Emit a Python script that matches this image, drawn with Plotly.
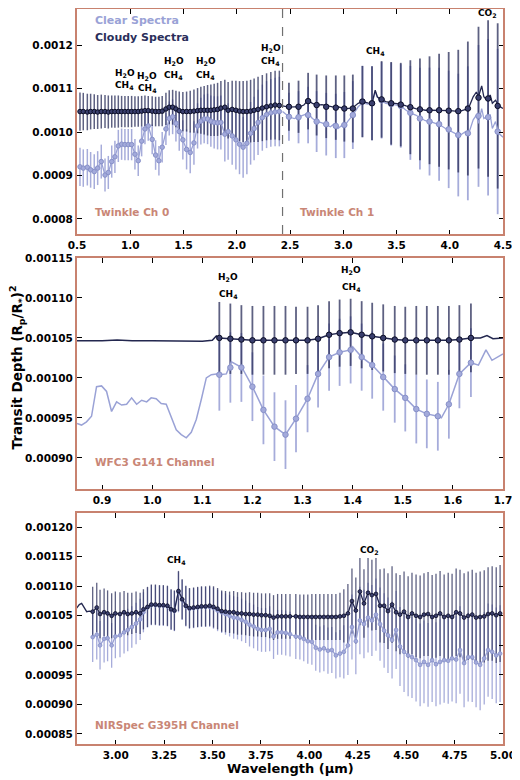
import plotly.graph_objects as go

# ---------------- Panel 1: Twinkle ----------------
ch0_wl = [0.528, 0.559, 0.597, 0.628, 0.662, 0.694, 0.728, 0.763, 0.794, 0.826,
          0.856, 0.888, 0.919, 0.95, 0.981, 1.013, 1.044, 1.075, 1.107, 1.138,
          1.169, 1.206, 1.238, 1.269, 1.3, 1.335, 1.366, 1.398, 1.429, 1.46,
          1.494, 1.529, 1.563, 1.598, 1.632, 1.663, 1.694, 1.726, 1.757, 1.788,
          1.82, 1.851, 1.888, 1.919, 1.957, 1.992, 2.026, 2.06, 2.095, 2.13,
          2.163, 2.2, 2.24, 2.28, 2.32, 2.36, 2.40]
ch0_clear = [0.000920, 0.000917, 0.000919, 0.000913, 0.000909, 0.000917, 0.000932, 0.000901, 0.000907, 0.000932,
             0.000943, 0.000968, 0.000972, 0.000971, 0.000971, 0.000971, 0.000949, 0.000934, 0.000979, 0.001007,
             0.001014, 0.000983, 0.000947, 0.000934, 0.000965, 0.001007, 0.001031, 0.001035, 0.001020, 0.001001,
             0.000982, 0.000960, 0.000953, 0.000975, 0.001014, 0.001025, 0.001030, 0.001030, 0.001025, 0.001022,
             0.001021, 0.001022, 0.000995, 0.001001, 0.000991, 0.000982, 0.000972, 0.000965, 0.000974, 0.000997,
             0.001008, 0.001022, 0.001033, 0.001040, 0.001044, 0.001046, 0.001047]
ch0_cloudy = [0.001047, 0.001047, 0.001046, 0.001047, 0.001047, 0.001046, 0.001047, 0.001047, 0.001046, 0.001047,
              0.001047, 0.001047, 0.001047, 0.001047, 0.001047, 0.001047, 0.001047, 0.001047, 0.001048, 0.001049,
              0.001049, 0.001048, 0.001047, 0.001047, 0.001048, 0.001053, 0.001057, 0.001057, 0.001053, 0.001049,
              0.001047, 0.001047, 0.001047, 0.001048, 0.001049, 0.001050, 0.001050, 0.001050, 0.001050, 0.001051,
              0.001052, 0.001055, 0.001057, 0.001050, 0.001052, 0.001050, 0.001048, 0.001047, 0.001047, 0.001048,
              0.001050, 0.001052, 0.001055, 0.001058, 0.001060, 0.001062, 0.001061]
ch0_err = [4.4e-5, 4.3e-5, 4.2e-5, 4.1e-5, 4.0e-5, 3.9e-5, 3.9e-5, 3.8e-5, 3.8e-5, 3.7e-5,
           3.7e-5, 3.7e-5, 3.6e-5, 3.6e-5, 3.6e-5, 3.6e-5, 3.5e-5, 3.5e-5, 3.5e-5, 3.5e-5,
           3.4e-5, 3.4e-5, 3.4e-5, 3.4e-5, 3.5e-5, 3.7e-5, 3.9e-5, 4.0e-5, 4.2e-5, 4.4e-5,
           4.5e-5, 4.6e-5, 4.8e-5, 5.0e-5, 5.2e-5, 5.4e-5, 5.6e-5, 5.8e-5, 5.9e-5, 6.0e-5,
           6.1e-5, 6.2e-5, 6.3e-5, 6.5e-5, 6.6e-5, 6.8e-5, 6.9e-5, 7.0e-5, 7.1e-5, 7.2e-5,
           7.3e-5, 7.5e-5, 7.6e-5, 7.7e-5, 7.8e-5, 7.9e-5, 8.0e-5]

ch1_wl = [2.49, 2.58, 2.67, 2.75, 2.84, 2.93, 3.01, 3.09, 3.18, 3.27, 3.36, 3.45,
          3.54, 3.63, 3.72, 3.81, 3.90, 3.99, 4.08, 4.17, 4.27, 4.36, 4.45]
ch1_clear = [0.001035, 0.001034, 0.001039, 0.001024, 0.001018, 0.001014, 0.001016, 0.001039, 0.001070, 0.001066,
             0.001073, 0.001064, 0.001060, 0.001044, 0.001031, 0.001024, 0.001018, 0.001006, 0.000993, 0.000997,
             0.001037, 0.001034, 0.001001]
ch1_cloudy = [0.001058, 0.001058, 0.001071, 0.001062, 0.001058, 0.001056, 0.001054, 0.001054, 0.001070, 0.001066,
              0.001075, 0.001066, 0.001063, 0.001057, 0.001052, 0.001050, 0.001050, 0.001049, 0.001048, 0.001054,
              0.001079, 0.001077, 0.001060]
ch1_err = [5.5e-5, 6.0e-5, 6.5e-5, 7.0e-5, 7.2e-5, 7.4e-5, 7.6e-5, 7.8e-5, 8.2e-5, 8.5e-5,
           8.8e-5, 9.5e-5, 9.6e-5, 10.8e-5, 11.7e-5, 12.4e-5, 13.0e-5, 13.5e-5, 14.1e-5, 15.4e-5,
           16.3e-5, 18.0e-5, 19.0e-5]

ch1_line_wl = [2.43, 2.49, 2.54, 2.59, 2.63, 2.67, 2.71, 2.76, 2.80, 2.85, 2.88, 2.91, 2.95, 2.98,
               3.01, 3.04, 3.09, 3.14, 3.18, 3.23, 3.27, 3.30, 3.32, 3.35, 3.40, 3.45, 3.49, 3.54,
               3.59, 3.63, 3.68, 3.73, 3.77, 3.82, 3.87, 3.91, 3.96, 4.01, 4.05, 4.10, 4.15, 4.18,
               4.22, 4.25, 4.27, 4.30, 4.32, 4.35, 4.38, 4.40, 4.43, 4.46, 4.50]
ch1_line_cloudy = [0.001060, 0.001057, 0.001058, 0.001058, 0.001062, 0.001073, 0.001066, 0.001062, 0.001063, 0.001060,
                   0.001058, 0.001057, 0.001058, 0.001056, 0.001054, 0.001054, 0.001056, 0.001066, 0.001070, 0.001067,
                   0.001066, 0.001096, 0.001081, 0.001075, 0.001070, 0.001067, 0.001066, 0.001064, 0.001060, 0.001057,
                   0.001054, 0.001052, 0.001050, 0.001050, 0.001050, 0.001050, 0.001049, 0.001049, 0.001048, 0.001048,
                   0.001052, 0.001057, 0.001081, 0.001092, 0.001081, 0.001106, 0.001081, 0.001073, 0.001085, 0.001066,
                   0.001073, 0.001060, 0.001054]
ch1_line_clear = [0.001047, 0.001035, 0.001031, 0.001035, 0.001039, 0.001043, 0.001031, 0.001024, 0.001021, 0.001016,
                  0.001012, 0.001018, 0.001008, 0.001014, 0.001012, 0.001024, 0.001039, 0.001058, 0.001067, 0.001064,
                  0.001064, 0.001093, 0.001080, 0.001073, 0.001066, 0.001064, 0.001062, 0.001060, 0.001050, 0.001044,
                  0.001039, 0.001031, 0.001026, 0.001024, 0.001020, 0.001016, 0.001008, 0.001001, 0.000997, 0.000993,
                  0.001001, 0.000998, 0.001028, 0.001039, 0.001020, 0.001054, 0.001031, 0.001035, 0.001039, 0.001008,
                  0.001024, 0.000997, 0.000988]

# ---------------- Panel 2: WFC3 G141 ----------------
wfc_wl = [1.134, 1.156, 1.178, 1.2, 1.222, 1.244, 1.266, 1.287, 1.31, 1.331, 1.353, 1.374,
          1.396, 1.418, 1.439, 1.461, 1.484, 1.505, 1.527, 1.548, 1.57, 1.592, 1.613, 1.636]
wfc_clear = [0.001004, 0.001013, 0.001013, 0.000989, 0.000960, 0.000939, 0.000929, 0.000949, 0.000974, 0.001005,
             0.001026, 0.001032, 0.001035, 0.001026, 0.001016, 0.001001, 0.000986, 0.000975, 0.000961, 0.000955,
             0.000952, 0.000967, 0.001005, 0.001019]
wfc_cloudy = [0.001050, 0.001049, 0.001048, 0.001047, 0.001047, 0.001047, 0.001047, 0.001047, 0.001047, 0.001049,
              0.001054, 0.001056, 0.001057, 0.001054, 0.001052, 0.001050, 0.001048, 0.001047, 0.001047, 0.001047,
              0.001047, 0.001047, 0.001048, 0.001050]
wfc_err = [4.5e-5, 4.4e-5, 4.3e-5, 4.3e-5, 4.3e-5, 4.3e-5, 4.3e-5, 4.2e-5, 4.2e-5, 4.2e-5,
           4.2e-5, 4.2e-5, 4.2e-5, 4.2e-5, 4.2e-5, 4.2e-5, 4.2e-5, 4.2e-5, 4.3e-5, 4.3e-5,
           4.3e-5, 4.3e-5, 4.3e-5, 4.3e-5]

wfc_line_wl = [0.85, 0.859, 0.869, 0.879, 0.889, 0.899, 0.909, 0.919, 0.929, 0.939, 0.949, 0.959,
               0.969, 0.979, 0.989, 0.998, 1.008, 1.018, 1.028, 1.038, 1.048, 1.058, 1.068, 1.078,
               1.088, 1.098, 1.108, 1.118, 1.128, 1.134, 1.148, 1.158, 1.168, 1.179, 1.2, 1.222,
               1.244, 1.266, 1.287, 1.31, 1.331, 1.353, 1.374, 1.396, 1.40, 1.418, 1.439, 1.461,
               1.484, 1.505, 1.527, 1.548, 1.57, 1.577, 1.592, 1.613, 1.636, 1.651, 1.666, 1.678, 1.70]
wfc_line_clear = [0.000943, 0.000941, 0.000945, 0.000952, 0.000989, 0.000990, 0.000983, 0.000958, 0.000970, 0.000966,
                  0.000967, 0.000975, 0.000967, 0.000972, 0.000970, 0.000975, 0.000974, 0.000968, 0.000967, 0.000952,
                  0.000935, 0.000929, 0.000925, 0.000932, 0.000948, 0.000973, 0.001000, 0.001004, 0.001005, 0.001004,
                  0.001005, 0.001020, 0.001017, 0.001013, 0.000989, 0.000960, 0.000939, 0.000929, 0.000949, 0.000974,
                  0.001005, 0.001026, 0.001032, 0.001035, 0.001039, 0.001026, 0.001016, 0.001001, 0.000986, 0.000975,
                  0.000961, 0.000955, 0.000952, 0.000950, 0.000967, 0.001005, 0.001019, 0.001016, 0.001035, 0.001022,
                  0.001030]
wfc_cl_line_wl = [0.85, 0.90, 0.93, 0.96, 1.00, 1.05, 1.10, 1.12, 1.128, 1.134, 1.156, 1.178, 1.2, 1.222,
                  1.244, 1.266, 1.287, 1.31, 1.331, 1.353, 1.374, 1.396, 1.418, 1.439, 1.461, 1.484,
                  1.505, 1.527, 1.548, 1.57, 1.592, 1.613, 1.636, 1.655, 1.668, 1.68, 1.70]
wfc_cl_line_cloudy = [0.0010465, 0.0010465, 0.0010475, 0.0010465, 0.0010465, 0.001046, 0.001046, 0.001047, 0.0010525,
                      0.001050, 0.001049, 0.001048, 0.001047, 0.001047, 0.001047, 0.001047, 0.001047, 0.001047,
                      0.001049, 0.001054, 0.001056, 0.001057, 0.001054, 0.001052, 0.001050, 0.001048, 0.001047,
                      0.001047, 0.001047, 0.001047, 0.001047, 0.001048, 0.001050, 0.001050, 0.001053, 0.001049,
                      0.001050]

# ---------------- Panel 3: NIRSpec G395H ----------------
nir_wl = [2.881, 2.902, 2.919, 2.94, 2.958, 2.979, 2.998, 3.022, 3.043, 3.062,
          3.083, 3.105, 3.126, 3.143, 3.164, 3.184, 3.205, 3.226, 3.246, 3.267,
          3.286, 3.303, 3.324, 3.343, 3.362, 3.381, 3.402, 3.423, 3.443, 3.464,
          3.485, 3.505, 3.526, 3.547, 3.567, 3.588, 3.609, 3.629, 3.65, 3.671,
          3.691, 3.712, 3.733, 3.753, 3.774, 3.795, 3.815, 3.836, 3.857, 3.878,
          3.90, 3.93, 3.951, 3.971, 3.992, 4.013, 4.033, 4.054, 4.075, 4.096,
          4.116, 4.137, 4.158, 4.178, 4.199, 4.22, 4.24, 4.261, 4.282, 4.303,
          4.323, 4.344, 4.365, 4.386, 4.406, 4.427, 4.448, 4.468, 4.489, 4.51,
          4.53, 4.551, 4.572, 4.592, 4.613, 4.634, 4.654, 4.675, 4.696, 4.717,
          4.737, 4.758, 4.778, 4.799, 4.82, 4.841, 4.861, 4.882, 4.903, 4.923,
          4.944, 4.965, 4.985]
nir_cloudy = [0.001057, 0.001064, 0.001053, 0.001056, 0.001054, 0.001050, 0.001054, 0.001053, 0.001056, 0.001053,
              0.001054, 0.001056, 0.001054, 0.001061, 0.001065, 0.001069, 0.001069, 0.001068, 0.001068, 0.001067,
              0.001061, 0.001059, 0.001092, 0.001078, 0.001067, 0.001063, 0.001064, 0.001065, 0.001066, 0.001066,
              0.001067, 0.001065, 0.001062, 0.001058, 0.001057, 0.001056, 0.001056, 0.001054, 0.001054, 0.001053,
              0.001053, 0.001052, 0.001052, 0.001051, 0.001051, 0.001050, 0.001047, 0.001049, 0.001049, 0.001049,
              0.001049, 0.001049, 0.001048, 0.001048, 0.001048, 0.001048, 0.001048, 0.001048, 0.001048, 0.001048,
              0.001048, 0.001048, 0.001049, 0.001050, 0.001054, 0.001075, 0.001059, 0.001091, 0.001071, 0.001089,
              0.001085, 0.001087, 0.001067, 0.001067, 0.001058, 0.001069, 0.001056, 0.001052, 0.001057, 0.001048,
              0.001054, 0.001050, 0.001048, 0.001052, 0.001053, 0.001048, 0.001050, 0.001054, 0.001048, 0.001050,
              0.001048, 0.001056, 0.001054, 0.001047, 0.001050, 0.001052, 0.001047, 0.001048, 0.001049, 0.001053,
              0.001054, 0.001051, 0.001054]
nir_clear = [0.001014, 0.001018, 0.001000, 0.001011, 0.001012, 0.001000, 0.001015, 0.001017, 0.001022, 0.001026,
             0.001031, 0.001037, 0.001044, 0.001056, 0.001064, 0.001068, 0.001068, 0.001067, 0.001067, 0.001066,
             0.001060, 0.001058, 0.001090, 0.001077, 0.001066, 0.001062, 0.001063, 0.001064, 0.001065, 0.001065,
             0.001065, 0.001063, 0.001059, 0.001056, 0.001053, 0.001050, 0.001047, 0.001046, 0.001043, 0.001040,
             0.001035, 0.001032, 0.001028, 0.001026, 0.001026, 0.001028, 0.001015, 0.001022, 0.001022, 0.001021,
             0.001019, 0.001015, 0.001014, 0.001011, 0.001007, 0.001006, 0.000996, 0.000993, 0.000995, 0.000991,
             0.000992, 0.000983, 0.000986, 0.000989, 0.001000, 0.001031, 0.001007, 0.001042, 0.001036, 0.001047,
             0.001042, 0.001052, 0.001036, 0.001025, 0.001017, 0.001009, 0.001026, 0.000998, 0.000989, 0.000983,
             0.000980, 0.000975, 0.000967, 0.000972, 0.000967, 0.000975, 0.000968, 0.000972, 0.000975, 0.000974,
             0.000978, 0.000976, 0.000992, 0.000970, 0.000980, 0.000980, 0.000971, 0.000967, 0.000978, 0.000992,
             0.000989, 0.000983, 0.000986]
nir_err = [4.2e-5, 4.2e-5, 4.1e-5, 4.0e-5, 3.9e-5, 3.8e-5, 3.7e-5, 3.7e-5, 3.6e-5, 3.6e-5,
           3.5e-5, 3.5e-5, 3.5e-5, 3.4e-5, 3.4e-5, 3.4e-5, 3.4e-5, 3.4e-5, 3.4e-5, 3.4e-5,
           3.4e-5, 3.4e-5, 3.4e-5, 3.4e-5, 3.4e-5, 3.4e-5, 3.4e-5, 3.4e-5, 3.4e-5, 3.4e-5,
           3.4e-5, 3.5e-5, 3.5e-5, 3.5e-5, 3.5e-5, 3.5e-5, 3.6e-5, 3.6e-5, 3.6e-5, 3.6e-5,
           3.7e-5, 3.7e-5, 3.7e-5, 3.7e-5, 3.7e-5, 3.8e-5, 3.8e-5, 3.8e-5, 3.8e-5, 3.8e-5,
           3.8e-5, 3.8e-5, 3.8e-5, 3.8e-5, 3.8e-5, 3.9e-5, 3.9e-5, 3.9e-5, 3.9e-5, 3.9e-5,
           3.9e-5, 3.9e-5, 4.0e-5, 4.5e-5, 5.0e-5, 5.5e-5, 5.6e-5, 5.7e-5, 5.8e-5, 5.9e-5,
           6.0e-5, 6.1e-5, 6.2e-5, 6.3e-5, 6.4e-5, 6.5e-5, 6.6e-5, 6.7e-5, 6.8e-5, 6.9e-5,
           6.9e-5, 7.0e-5, 7.0e-5, 7.0e-5, 7.1e-5, 7.1e-5, 7.1e-5, 7.2e-5, 7.2e-5, 7.3e-5,
           7.3e-5, 7.4e-5, 7.4e-5, 7.5e-5, 7.5e-5, 7.6e-5, 7.6e-5, 7.7e-5, 7.8e-5, 7.9e-5,
           8.0e-5, 8.1e-5, 8.2e-5]
nir_head_wl = [2.798, 2.812, 2.824, 2.836, 2.85, 2.864, 2.881]
nir_head_cloudy = [0.001063, 0.001069, 0.001071, 0.001065, 0.001057, 0.001058, 0.001057]

x_ticks1 = [0.5, 1.0, 1.5, 2.0, 2.5, 3.0, 3.5, 4.0, 4.5]
y_ticks1 = [0.0008, 0.0009, 0.0010, 0.0011, 0.0012]
x_ticks2 = [0.9, 1.0, 1.1, 1.2, 1.3, 1.4, 1.5, 1.6, 1.7]
y_ticks2 = [0.00090, 0.00095, 0.00100, 0.00105, 0.00110, 0.00115]
x_ticks3 = [3.00, 3.25, 3.50, 3.75, 4.00, 4.25, 4.50, 4.75, 5.00]
y_ticks3 = [0.00085, 0.00090, 0.00095, 0.00100, 0.00105, 0.00110, 0.00115, 0.00120]

# ---------------- styling ----------------
CLEAR_LINE = "#9AA2D6"
CLEAR_FILL = "#A3AADB"
CLEAR_EDGE = "#8790C8"
CLEAR_ERR = "rgba(150,158,212,0.85)"
CLOUDY_LINE = "#23274F"
CLOUDY_FILL = "#3A3F6E"
CLOUDY_EDGE = "#0B0D26"
CLOUDY_ERR = "rgba(40,44,88,0.75)"
FRAME = "#C8826F"
LABEL = "#C98676"
FONT = "DejaVu Sans"

fig = go.Figure()


def err_trace(x, y, e, color, ax, thick=1.5):
    fig.add_trace(go.Scatter(x=x, y=y, mode="markers", marker=dict(size=2, opacity=0),
                             error_y=dict(type="data", array=e, color=color, thickness=thick, width=0),
                             xaxis=ax[0], yaxis=ax[1], showlegend=False, hoverinfo="skip"))


def line_trace(x, y, color, ax, width=1.3):
    fig.add_trace(go.Scatter(x=x, y=y, mode="lines", line=dict(color=color, width=width),
                             xaxis=ax[0], yaxis=ax[1], showlegend=False, hoverinfo="skip"))


def mark_trace(x, y, fill, edge, size, ax, lines=None, ew=1):
    mode = "markers" if lines is None else "lines+markers"
    kw = {}
    if lines is not None:
        kw["line"] = dict(color=lines, width=1.3)
    fig.add_trace(go.Scatter(x=x, y=y, mode=mode,
                             marker=dict(size=size, color=fill, line=dict(color=edge, width=ew)),
                             xaxis=ax[0], yaxis=ax[1], showlegend=False, hoverinfo="skip", **kw))


A1, A2, A3 = ("x", "y"), ("x2", "y2"), ("x3", "y3")

# Panel 1
err_trace(ch0_wl, ch0_clear, ch0_err, CLEAR_ERR, A1)
err_trace(ch1_wl, ch1_clear, ch1_err, CLEAR_ERR, A1, 1.8)
err_trace(ch0_wl, ch0_cloudy, ch0_err, CLOUDY_ERR, A1)
err_trace(ch1_wl, ch1_cloudy, ch1_err, CLOUDY_ERR, A1, 1.8)
line_trace(ch1_line_wl, ch1_line_clear, CLEAR_LINE, A1)
mark_trace(ch0_wl, ch0_clear, CLEAR_FILL, CLEAR_EDGE, 4.5, A1, lines=CLEAR_LINE)
mark_trace(ch1_wl, ch1_clear, CLEAR_FILL, CLEAR_EDGE, 5.5, A1)
line_trace(ch1_line_wl, ch1_line_cloudy, CLOUDY_LINE, A1)
mark_trace(ch0_wl, ch0_cloudy, CLOUDY_FILL, CLOUDY_EDGE, 4.5, A1, lines=CLOUDY_LINE)
mark_trace(ch1_wl, ch1_cloudy, CLOUDY_FILL, CLOUDY_EDGE, 5.5, A1)

# Panel 2
err_trace(wfc_wl, wfc_clear, wfc_err, CLEAR_ERR, A2, 1.8)
err_trace(wfc_wl, wfc_cloudy, wfc_err, CLOUDY_ERR, A2, 1.8)
line_trace(wfc_line_wl, wfc_line_clear, CLEAR_LINE, A2, 1.5)
mark_trace(wfc_wl, wfc_clear, CLEAR_FILL, CLEAR_EDGE, 5.5, A2)
line_trace(wfc_cl_line_wl, wfc_cl_line_cloudy, CLOUDY_LINE, A2, 1.5)
mark_trace(wfc_wl, wfc_cloudy, CLOUDY_FILL, CLOUDY_EDGE, 5.5, A2)

# Panel 3
err_trace(nir_wl, nir_clear, nir_err, CLEAR_ERR, A3, 1.3)
err_trace(nir_wl, nir_cloudy, nir_err, CLOUDY_ERR, A3, 1.3)
mark_trace(nir_wl, nir_clear, CLEAR_FILL, CLEAR_EDGE, 3.8, A3, lines=CLEAR_LINE, ew=0.8)
line_trace(nir_head_wl, nir_head_cloudy, CLOUDY_LINE, A3)
mark_trace(nir_wl, nir_cloudy, CLOUDY_FILL, CLOUDY_EDGE, 3.8, A3, lines=CLOUDY_LINE, ew=0.8)

# The page body has an 8 px margin, so the figure is laid out in page pixels minus 8.
OFF = 8
W, H = 512, 772


def px(xp):
    return (xp - OFF) / W


def py(yp):
    return 1 - (yp - OFF) / H


xdom = [px(77), px(503)]


def ydom(top, bottom):
    return [py(bottom), min(1.0, py(top))]


tickfont = dict(family=FONT, size=10.5, color="black", weight="bold")
common = dict(showline=True, linecolor=FRAME, linewidth=2, mirror="ticks", ticks="inside",
              ticklen=4.5, tickwidth=1.3, tickcolor="black", showgrid=False, zeroline=False,
              tickfont=tickfont, automargin=False)

fig.update_layout(
    width=W, height=H, margin=dict(l=0, r=0, t=0, b=0, pad=0, autoexpand=False),
    paper_bgcolor="white", plot_bgcolor="white", showlegend=False,
    xaxis=dict(domain=xdom, anchor="y", range=[0.5, 4.5], tickvals=x_ticks1,
               ticktext=[f"{v:.1f}" for v in x_ticks1], **common),
    yaxis=dict(domain=ydom(9, 234), anchor="x", range=[0.0007655, 0.0012828], tickvals=y_ticks1,
               ticktext=[f"{v:.4f}" for v in y_ticks1], **common),
    xaxis2=dict(domain=xdom, anchor="y2", range=[0.85, 1.7], tickvals=x_ticks2,
                ticktext=[f"{v:.1f}" for v in x_ticks2], **common),
    yaxis2=dict(domain=ydom(258, 489), anchor="x2", range=[0.000861, 0.00115], tickvals=y_ticks2,
                ticktext=[f"{v:.5f}" for v in y_ticks2], **common),
    xaxis3=dict(domain=xdom, anchor="y3", range=[2.8, 5.0], tickvals=x_ticks3,
                ticktext=[f"{v:.2f}" for v in x_ticks3], **common),
    yaxis3=dict(domain=ydom(513, 744), anchor="x3", range=[0.000833, 0.001224], tickvals=y_ticks3,
                ticktext=[f"{v:.5f}" for v in y_ticks3], **common),
)

fig.add_shape(type="line", xref="x", yref="y domain", x0=2.43, x1=2.43, y0=0, y1=1,
              line=dict(color="#707070", width=1.2, dash="dash"))

H2O = "<b>H<sub>2</sub>O</b>"
CH4 = "<b>CH<sub>4</sub></b>"
CO2 = "<b>CO<sub>2</sub></b>"


def ann(text, x, y, ax, size=9, color="black", xanchor="center"):
    fig.add_annotation(text=text, x=x, y=y, xref=ax[0], yref=ax[1], showarrow=False,
                       xanchor=xanchor, yanchor="middle",
                       font=dict(family=FONT, size=size, color=color))


# panel 1 labels
ann("<b>Clear Spectra</b>", 0.65, 0.001257, A1, 11, CLEAR_LINE, "left")
ann("<b>Cloudy Spectra</b>", 0.65, 0.001218, A1, 11, "#2A2E5A", "left")
ann("<b>Twinkle Ch 0</b>", 0.65, 0.000816, A1, 10.5, LABEL, "left")
ann("<b>Twinkle Ch 1</b>", 2.576, 0.000816, A1, 10.5, LABEL, "left")
for xw, y_top, y_bot in [(0.95, 0.001135, 0.001106), (1.16, 0.001128, 0.001099),
                         (1.41, 0.001161, 0.001131), (1.71, 0.001161, 0.001131),
                         (2.32, 0.001193, 0.001163)]:
    ann(H2O, xw, y_top, A1)
    ann(CH4, xw, y_bot, A1)
ann(CH4, 3.30, 0.001184, A1)
ann(CO2, 4.35, 0.001272, A1)

# panel 2 labels
ann(H2O, 1.152, 0.001126, A2)
ann(CH4, 1.152, 0.001104, A2)
ann(H2O, 1.397, 0.001134, A2)
ann(CH4, 1.397, 0.001113, A2)
ann("<b>WFC3 G141 Channel</b>", 0.882, 0.000895, A2, 10.5, LABEL, "left")

# panel 3 labels
ann(CH4, 3.316, 0.001143, A3)
ann(CO2, 4.31, 0.00116, A3)
ann("<b>NIRSpec G395H Channel</b>", 2.881, 0.000866, A3, 10.5, LABEL, "left")

# axis titles
fig.add_annotation(text="<b>Transit Depth (R<sub>p</sub>/R<sub>*</sub>)<sup>2</sup></b>",
                   x=px(17.5), y=py(368), xref="paper", yref="paper", showarrow=False,
                   xanchor="center", yanchor="middle",
                   textangle=-90, font=dict(family=FONT, size=13.5, color="black"))
fig.add_annotation(text="<b>Wavelength (µm)</b>", x=px(290), y=py(768), xref="paper", yref="paper",
                   xanchor="center", yanchor="middle",
                   showarrow=False, font=dict(family=FONT, size=13, color="black"))

fig.write_html("out.html")
